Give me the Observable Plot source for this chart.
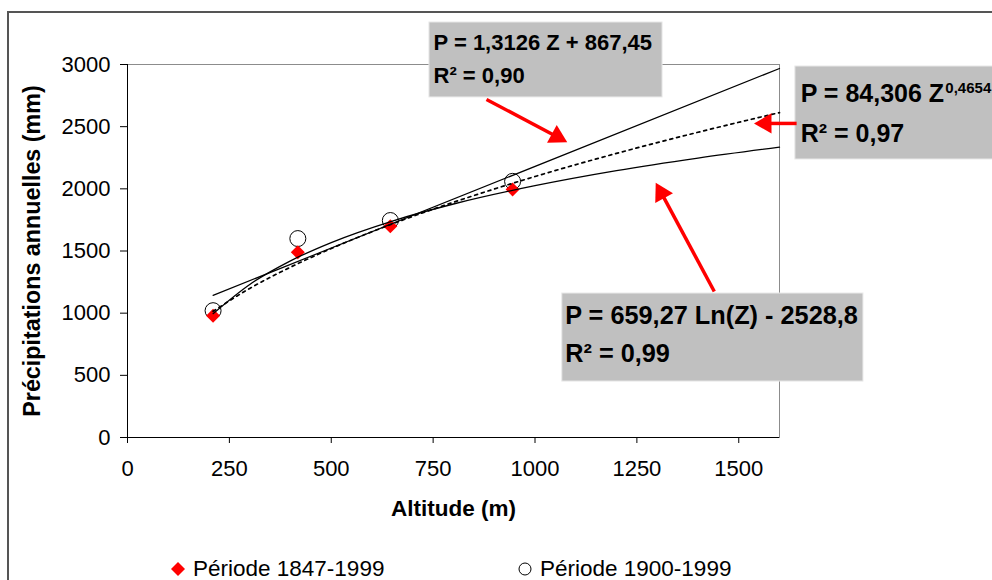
<!DOCTYPE html>
<html>
<head>
<meta charset="utf-8">
<script src="https://cdn.jsdelivr.net/npm/d3@7"></script>
<script src="https://cdn.jsdelivr.net/npm/@observablehq/plot@0.6"></script>
<style>
  html, body { margin: 0; padding: 0; background: #fff; overflow: hidden; }
  #wrap { position: relative; width: 992px; height: 580px; overflow: hidden; background: #fff; }
  #chart { position: absolute; left: 0; top: 0; }
  #border { position: absolute; left: 7px; top: 11px; width: 1100px; height: 700px; border: 2px solid #555; pointer-events: none; }
  .leg { position: absolute; top: 557px; height: 24px; line-height: 24px; display: flex; align-items: center;
         font-family: "Liberation Sans", Arial, sans-serif; font-size: 22.5px; color: #000; white-space: nowrap; }
  .leg svg { margin-right: 8px; }
</style>
</head>
<body>
<div id="wrap">
  <div id="chart"></div>
  <div id="border"></div>
  <div class="leg" style="left:171px"><svg width="14" height="14"><polygon points="7,0 14,7 7,14 0,7" fill="#ff0000"/></svg>Période 1847-1999</div>
  <div class="leg" style="left:518px"><svg width="14" height="14"><circle cx="7" cy="7" r="6" fill="none" stroke="#000" stroke-width="1"/></svg>Période 1900-1999</div>
</div>
<script>
// ---- data ----
const altitude = [210, 418, 645, 945];          // m
const p1847 = [980, 1490, 1700, 1995];          // mm, Période 1847-1999
const p1900 = [1020, 1600, 1745, 2060];         // mm, Période 1900-1999

// trend lines (values as drawn)
const linearZ = [210, 1600];
const linearP = [1143, 2968];
const curveZ = [210, 300, 400, 500, 650, 800, 1000, 1200, 1400, 1600];
const logP   = [996, 1231, 1421, 1568, 1741, 1878, 2025, 2146, 2247, 2335];
const powerP = [1015, 1199, 1370, 1520, 1718, 1892, 2099, 2285, 2455, 2613];

const xTicks = [0, 250, 500, 750, 1000, 1250, 1500];
const yTicks = [0, 500, 1000, 1500, 2000, 2500, 3000];

const eqLinear = ["P = 1,3126 Z + 867,45", "R² = 0,90"];
const eqPower = ["P = 84,306 Z", "0,4654", "R² = 0,97"];
const eqLog = ["P = 659,27 Ln(Z) - 2528,8", "R² = 0,99"];
const xTitle = "Altitude (m)";
const yTitle = "Précipitations annuelles (mm)";

// ---- tables ----
const points = altitude.map((z, i) => ({z, a: p1847[i], b: p1900[i]}));
const linRows = linearZ.map((z, i) => ({z, p: linearP[i]}));
const logRows = curveZ.map((z, i) => ({z, p: logP[i]}));
const powRows = curveZ.map((z, i) => ({z, p: powerP[i]}));

// annotation placement (data coordinates)
const boxes = [
  {x1: 741, x2: 1313, y1: 2735, y2: 3338},
  {x1: 1639, x2: 2300, y1: 2236, y2: 2984},
  {x1: 1067, x2: 1806, y1: 450, y2: 1158}
];
const txt22 = [{x: 751, y: 3177, t: eqLinear[0]}, {x: 751, y: 2904, t: eqLinear[1]}];
const txt25 = [{x: 1652, y: 2759, t: eqPower[0]}, {x: 1652, y: 2437, t: eqPower[2]}];
const txtSup = [{x: 2007, y: 2812, t: eqPower[1]}];
const txt26 = [{x: 1074, y: 981, t: eqLog[0]}, {x: 1074, y: 676, t: eqLog[1]}];
const shafts = [
  {x1: 881, y1: 2719, x2: 1054, y2: 2419},
  {x1: 1642, y1: 2526, x2: 1566, y2: 2526},
  {x1: 1440, y1: 1174, x2: 1310, y2: 1967}
];
const heads = [
  {x: 1054, y: 2419, rot: 118.6},
  {x: 1566, y: 2526, rot: -90},
  {x: 1310, y: 1967, rot: -28.7}
];

const font = "'Liberation Sans', Arial, sans-serif";

const chart = Plot.plot({
  width: 992,
  height: 580,
  marginLeft: 127,
  marginRight: 213,
  marginTop: 64,
  marginBottom: 143,
  style: {fontFamily: font, fontSize: "22px", color: "#000", background: "transparent"},
  x: {domain: [0, 1600], ticks: xTicks, tickSize: 6, tickPadding: 17, tickFormat: d3.format("d"), label: null},
  y: {domain: [0, 3000], ticks: yTicks, tickSize: 7, tickPadding: 10, tickFormat: d3.format("d"), label: null},
  marks: [
    Plot.frame({stroke: "#8c8c8c", strokeWidth: 1}),
    Plot.ruleX([0], {stroke: "#000", strokeWidth: 1}),
    Plot.ruleY([0], {stroke: "#000", strokeWidth: 1}),
    Plot.dot(points, {x: "z", y: "b", r: 8, fill: "none", stroke: "#000", strokeWidth: 1}),
    Plot.dot(points, {x: "z", y: "a", r: 6.3, symbol: "diamond2", fill: "#ff0000", stroke: "none"}),
    Plot.line(linRows, {x: "z", y: "p", stroke: "#000", strokeWidth: 1.2}),
    Plot.line(logRows, {x: "z", y: "p", stroke: "#000", strokeWidth: 1.3, curve: "monotone-x"}),
    Plot.line(powRows, {x: "z", y: "p", stroke: "#000", strokeWidth: 1.7, strokeDasharray: "3,4", curve: "monotone-x"}),
    // annotations
    Plot.rect(boxes, {x1: "x1", x2: "x2", y1: "y1", y2: "y2", fill: "#c0c0c0", stroke: "#e8e8e8", strokeWidth: 1}),
    Plot.text(txt22, {x: "x", y: "y", text: "t", textAnchor: "start", fontWeight: "bold", fontSize: 22, fill: "#000"}),
    Plot.text(txt25, {x: "x", y: "y", text: "t", textAnchor: "start", fontWeight: "bold", fontSize: 25, fill: "#000"}),
    Plot.text(txtSup, {x: "x", y: "y", text: "t", textAnchor: "start", fontWeight: "bold", fontSize: 15, fill: "#000"}),
    Plot.text(txt26, {x: "x", y: "y", text: "t", textAnchor: "start", fontWeight: "bold", fontSize: 25.3, fill: "#000"}),
    Plot.link(shafts, {x1: "x1", y1: "y1", x2: "x2", y2: "y2", stroke: "#ff0000", strokeWidth: 3.5}),
    Plot.dot(heads, {x: "x", y: "y", rotate: "rot", symbol: "triangle", r: 7.5, fill: "#ff0000", stroke: "none"}),
    // axis titles
    Plot.text([xTitle], {frameAnchor: "bottom", dy: 71, lineAnchor: "middle", textAnchor: "middle", text: d => d, fontWeight: "bold", fontSize: 22.5, fill: "#000"}),
    Plot.text([yTitle], {frameAnchor: "left", dx: -95, rotate: -90, textAnchor: "middle", lineAnchor: "middle", text: d => d, fontWeight: "bold", fontSize: 23.3, fill: "#000"})
  ]
});
document.getElementById("chart").appendChild(chart);
</script>
</body>
</html>
